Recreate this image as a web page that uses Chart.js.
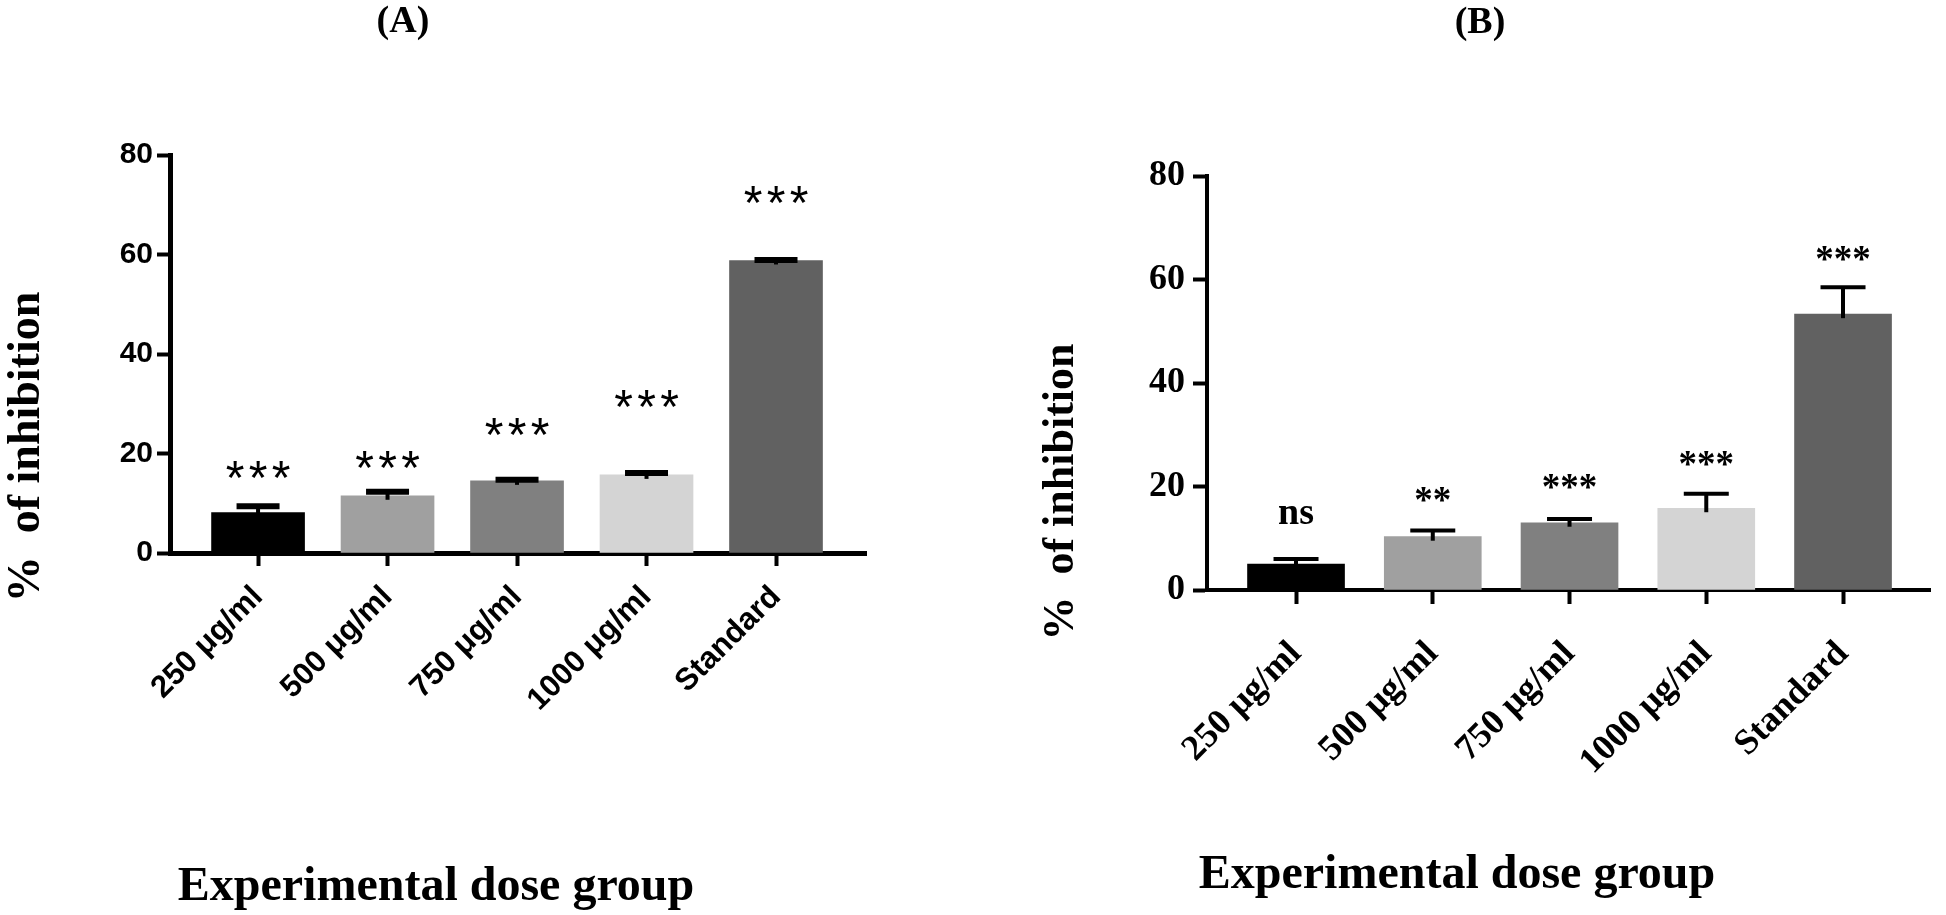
<!DOCTYPE html>
<html>
<head>
<meta charset="utf-8">
<script src="https://cdn.jsdelivr.net/npm/chart.js@4.4.1/dist/chart.umd.min.js"></script>
<style>
  html, body { margin: 0; padding: 0; background: #fff; }
  #wrap { position: relative; width: 1946px; height: 915px; }
  canvas { position: absolute; top: 0; }
</style>
</head>
<body>
<div id="wrap">
  <canvas id="chartA" width="975" height="915" style="left:0"></canvas>
  <canvas id="chartB" width="971" height="915" style="left:975px"></canvas>
</div>
<script>
// data
var groups = ['250 \u03bcg/ml', '500 \u03bcg/ml', '750 \u03bcg/ml', '1000 \u03bcg/ml', 'Standard'];
var yTicks = [0, 20, 40, 60, 80];
var barColors = ['#000000', '#a0a0a0', '#808080', '#d4d4d4', '#616161'];

var meanA = [8.1, 11.5, 14.5, 15.7, 58.8];
var errA = [1.3, 0.8, 0.2, 0.4, 0.1];
var sigA = ['***', '***', '***', '***', '***'];
var sigLevelA = [16.8, 18.8, 25.4, 31.0, 72.0];

var meanB = [5.0, 10.3, 13.0, 15.8, 53.3];
var errB = [1.0, 1.2, 0.7, 2.8, 5.2];
var sigB = ['ns', '**', '***', '***', '***'];
var sigLevelB = [14.5, 18.5, 20.9, 25.4, 65.1];

var SERIF = '"Liberation Serif", "Times New Roman", serif';
var SANS = '"Liberation Sans", Arial, sans-serif';

function makePanel(id, p) {
    var H = 915;
    var pts = p.means.map(function(v, i) { return {x: i, y: v}; });

    var extras = {
        id: 'extras',
        afterDatasetsDraw: function(chart) {
            var ctx = chart.ctx;
            var y = chart.scales.y;
            var meta = chart.getDatasetMeta(0);
            ctx.save();
            ctx.strokeStyle = '#000';
            ctx.fillStyle = '#000';
            meta.data.forEach(function(bar, i) {
                var top = y.getPixelForValue(p.means[i] + p.errs[i]);
                // stem
                ctx.lineWidth = p.stemW;
                ctx.beginPath();
                ctx.moveTo(bar.x, bar.y + 4);
                ctx.lineTo(bar.x, top);
                ctx.stroke();
                // cap
                ctx.lineWidth = p.capT;
                ctx.beginPath();
                ctx.moveTo(bar.x - p.capW / 2, top);
                ctx.lineTo(bar.x + p.capW / 2, top);
                ctx.stroke();

                // significance marks
                var txt = p.sig[i];
                var cy = y.getPixelForValue(p.sigLevel[i]);
                ctx.font = txt === 'ns' ? p.nsFont : p.sigFont;
                ctx.textAlign = 'center';
                ctx.textBaseline = 'alphabetic';
                var m = ctx.measureText(txt);
                var base = cy + (m.actualBoundingBoxAscent - m.actualBoundingBoxDescent) / 2;
                if (p.sigPitch && txt !== 'ns') {
                    for (var k = 0; k < txt.length; k++) {
                        ctx.fillText(txt[k], bar.x + (k - (txt.length - 1) / 2) * p.sigPitch, base);
                    }
                } else {
                    ctx.fillText(txt, bar.x, base);
                }
            });
            ctx.restore();
        },
        afterDraw: function(chart) {
            var ctx = chart.ctx;
            ctx.save();
            ctx.fillStyle = '#000';
            ctx.textAlign = 'center';
            ctx.textBaseline = 'middle';
            ctx.font = 'bold 38px ' + SERIF;
            ctx.fillText(p.panel, p.panelX, p.panelY);
            ctx.font = 'bold 48px ' + SERIF;
            ctx.fillText('Experimental dose group', p.xTitleX, p.xTitleY);
            ctx.translate(p.yTitleX, p.yTitleY);
            ctx.rotate(-Math.PI / 2);
            ctx.font = 'bold ' + p.yTitleSize + 'px ' + SERIF;
            ctx.fillText('%  of inhibition', 0, 0);
            ctx.restore();
        }
    };

    return new Chart(document.getElementById(id), {
        type: 'bar',
        data: {
            datasets: [{
                data: pts,
                backgroundColor: barColors,
                borderWidth: 0,
                barThickness: p.barW
            }]
        },
        options: {
            responsive: false,
            animation: false,
            devicePixelRatio: 1,
            layout: { padding: { top: p.top, right: p.right, left: 0, bottom: 0 } },
            plugins: { legend: { display: false }, tooltip: { enabled: false } },
            scales: {
                x: {
                    type: 'linear',
                    offset: false,
                    min: p.xMin,
                    max: p.xMax,
                    afterBuildTicks: function(s) { s.ticks = groups.map(function(g, i) { return {value: i}; }); },
                    afterFit: function(s) { s.height = H - p.bottom; },
                    grid: { offset: false, drawOnChartArea: false, drawTicks: true, tickLength: p.tickLen, tickWidth: p.tickW, tickColor: '#000' },
                    border: { display: true, color: '#000', width: p.axisW },
                    ticks: {
                        autoSkip: false, minRotation: 45, maxRotation: 45,
                        padding: p.xPad, color: '#000', font: p.xFont,
                        callback: function(v) { return groups[v]; }
                    }
                },
                y: {
                    min: 0,
                    max: 80,
                    afterBuildTicks: function(s) { s.ticks = yTicks.map(function(v) { return {value: v}; }); },
                    afterFit: function(s) { s.width = p.left; },
                    grid: { drawOnChartArea: false, drawTicks: true, tickLength: p.tickLen, tickWidth: p.tickW, tickColor: '#000' },
                    border: { display: true, color: '#000', width: p.axisW },
                    ticks: { padding: p.yPad, color: '#000', font: p.yFont }
                }
            }
        },
        plugins: [extras]
    });
}

makePanel('chartA', {
    means: meanA, errs: errA, sig: sigA, sigLevel: sigLevelA,
    left: 170, top: 155, right: 975 - 866, bottom: 553,
    xMin: -0.68, xMax: 4.695, barW: 93,
    axisW: 5, tickLen: 13, tickW: 4,
    stemW: 4, capW: 43, capT: 6,
    xPad: 13, yPad: 4,
    xFont: { family: SANS, weight: 'bold', size: 31 },
    yFont: { family: SANS, weight: 'bold', size: 30 },
    sigFont: '48px ' + SANS, nsFont: 'bold 38px ' + SERIF, sigPitch: 23,
    panel: '(A)', panelX: 403, panelY: 22,
    xTitleX: 436, xTitleY: 888,
    yTitleX: 27, yTitleY: 447, yTitleSize: 46
});

makePanel('chartB', {
    means: meanB, errs: errB, sig: sigB, sigLevel: sigLevelB,
    left: 232, top: 176, right: 971 - 955, bottom: 590,
    xMin: -0.651, xMax: 4.636, barW: 97,
    axisW: 4, tickLen: 14, tickW: 4,
    stemW: 4, capW: 45, capT: 4,
    xPad: 29, yPad: 8,
    xFont: { family: SERIF, weight: 'bold', size: 36 },
    yFont: { family: SERIF, weight: 'bold', size: 36 },
    sigFont: 'bold 37px ' + SERIF, nsFont: 'bold 38px ' + SERIF, sigPitch: 0,
    panel: '(B)', panelX: 505, panelY: 23,
    xTitleX: 482, xTitleY: 876,
    yTitleX: 87, yTitleY: 492, yTitleSize: 44
});
</script>
</body>
</html>
